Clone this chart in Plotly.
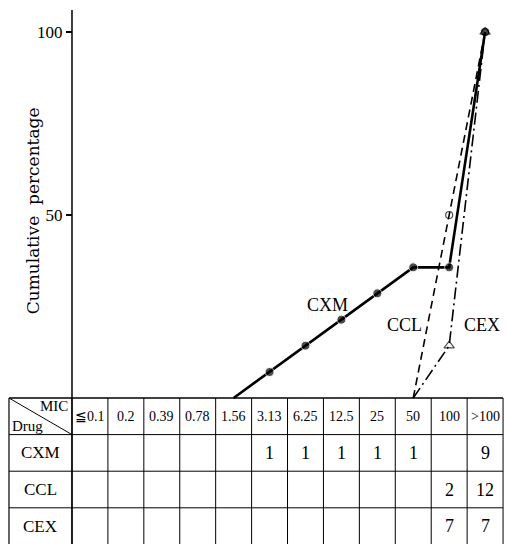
import plotly.graph_objects as go

# ---------------- data ----------------
mic_labels = ["≦0.1", "0.2", "0.39", "0.78", "1.56", "3.13", "6.25", "12.5", "25", "50", "100", ">100"]
drugs = ["CXM", "CCL", "CEX"]
counts = {
    "CXM": ["", "", "", "", "", "1", "1", "1", "1", "1", "", "9"],
    "CCL": ["", "", "", "", "", "", "", "", "", "", "2", "12"],
    "CEX": ["", "", "", "", "", "", "", "", "", "", "7", "7"],
}

# cumulative percentage curves as drawn in the figure
cxm_mic = ["1.56", "3.13", "6.25", "12.5", "25", "50", "100", ">100"]
cxm_cum = [0, 7.1, 14.3, 21.4, 28.6, 35.7, 35.7, 100]
ccl_mic = ["50", "100", ">100"]
ccl_cum = [0, 50, 100]
cex_mic = ["50", "100", ">100"]
cex_cum = [0, 14.3, 100]

y_ticks = [50, 100]

# ---------------- figure ----------------
FONT = "Liberation Serif, DejaVu Serif, serif"
idx = {m: i for i, m in enumerate(mic_labels)}

fig = go.Figure()

fig.add_trace(go.Scatter(
    x=[idx[m] for m in cxm_mic], y=cxm_cum, mode="lines+markers",
    line=dict(color="black", width=2.6),
    marker=dict(symbol="circle", size=[0] + [9] * (len(cxm_cum) - 1), color="black"),
    showlegend=False, hoverinfo="skip"))
fig.add_trace(go.Scatter(
    x=[idx[m] for m in ccl_mic], y=ccl_cum, mode="lines+markers",
    line=dict(color="black", width=1.6, dash="8px,5px"),
    marker=dict(symbol="circle-open", size=[0, 7, 7], color="black", line=dict(width=1.2)),
    showlegend=False, hoverinfo="skip"))
fig.add_trace(go.Scatter(
    x=[idx[m] for m in cex_mic], y=cex_cum, mode="lines+markers",
    line=dict(color="black", width=1.6, dash="12px,4px,2px,4px"),
    marker=dict(symbol="triangle-up-open", size=[0, 9, 9], color="black", line=dict(width=1.2)),
    showlegend=False, hoverinfo="skip"))

shapes = []
n = len(mic_labels)
left = -2.254
row_h = 10
n_rows = len(drugs) + 1
bottom = -row_h * n_rows

# y axis line (also first column boundary)
shapes.append(dict(type="line", xref="x", yref="y", x0=-0.5, x1=-0.5, y0=bottom, y1=106,
                   line=dict(color="black", width=1.5)))
# horizontal table lines
for r in range(n_rows):
    shapes.append(dict(type="line", xref="x", yref="y", x0=left, x1=n - 0.5,
                       y0=-r * row_h, y1=-r * row_h,
                       line=dict(color="black", width=1.6 if r == 0 else 1)))
# vertical table lines
for c in range(n + 1):
    shapes.append(dict(type="line", xref="x", yref="y", x0=c - 0.5, x1=c - 0.5,
                       y0=0, y1=bottom, line=dict(color="black", width=1)))
shapes.append(dict(type="line", xref="x", yref="y", x0=left, x1=left, y0=0, y1=bottom,
                   line=dict(color="black", width=1.2)))
# diagonal in header cell
shapes.append(dict(type="line", xref="x", yref="y", x0=left, x1=-0.5, y0=0, y1=-row_h,
                   line=dict(color="black", width=1)))

ann = []
for i, m in enumerate(mic_labels):
    ann.append(dict(x=i, y=-row_h / 2, text=m, showarrow=False,
                    font=dict(family=FONT, size=14, color="black")))
for r, d in enumerate(drugs):
    yc = -row_h * (r + 1) - row_h / 2
    ann.append(dict(x=(left - 0.5) / 2, y=yc, text=d, showarrow=False,
                    font=dict(family=FONT, size=17, color="black")))
    for i, v in enumerate(counts[d]):
        if v:
            ann.append(dict(x=i, y=yc, text=v, showarrow=False,
                            font=dict(family=FONT, size=18, color="black")))
ann.append(dict(x=-0.56, y=-2.2, text="MIC", showarrow=False, xanchor="right",
                font=dict(family=FONT, size=15, color="black")))
ann.append(dict(x=left + 0.03, y=-7.6, text="Drug", showarrow=False, xanchor="left",
                font=dict(family=FONT, size=15, color="black")))

# curve labels
ann.append(dict(x=6.6, y=25.4, text="CXM", showarrow=False, font=dict(family=FONT, size=18, color="black")))
ann.append(dict(x=8.77, y=19.9, text="CCL", showarrow=False, font=dict(family=FONT, size=18, color="black")))
ann.append(dict(x=10.92, y=19.9, text="CEX", showarrow=False, font=dict(family=FONT, size=18, color="black")))

# y axis title
ann.append(dict(xref="paper", yref="y", x=33 / 507, y=51, xanchor="center", yanchor="middle",
                text="Cumulative  percentage", textangle=-90, showarrow=False,
                font=dict(family="DejaVu Serif, Liberation Serif, serif", size=17, color="black")))

fig.update_layout(
    width=507, height=544,
    margin=dict(l=0, r=0, t=0, b=0),
    paper_bgcolor="white", plot_bgcolor="white",
    xaxis=dict(range=[-2.504, 11.61], visible=False, fixedrange=True),
    yaxis=dict(range=[-39.89, 108.74], anchor="free", position=72 / 507, fixedrange=True,
               tickvals=y_ticks, ticktext=[str(t) for t in y_ticks],
               ticks="outside", ticklen=6, tickwidth=1.5, tickcolor="black",
               showline=False, showgrid=False, zeroline=False,
               tickfont=dict(family=FONT, size=17, color="black")),
    shapes=shapes, annotations=ann,
)

fig.write_html("out.html", config={"displayModeBar": False},
               post_script="document.body.style.margin='0';document.body.style.overflow='hidden';")
